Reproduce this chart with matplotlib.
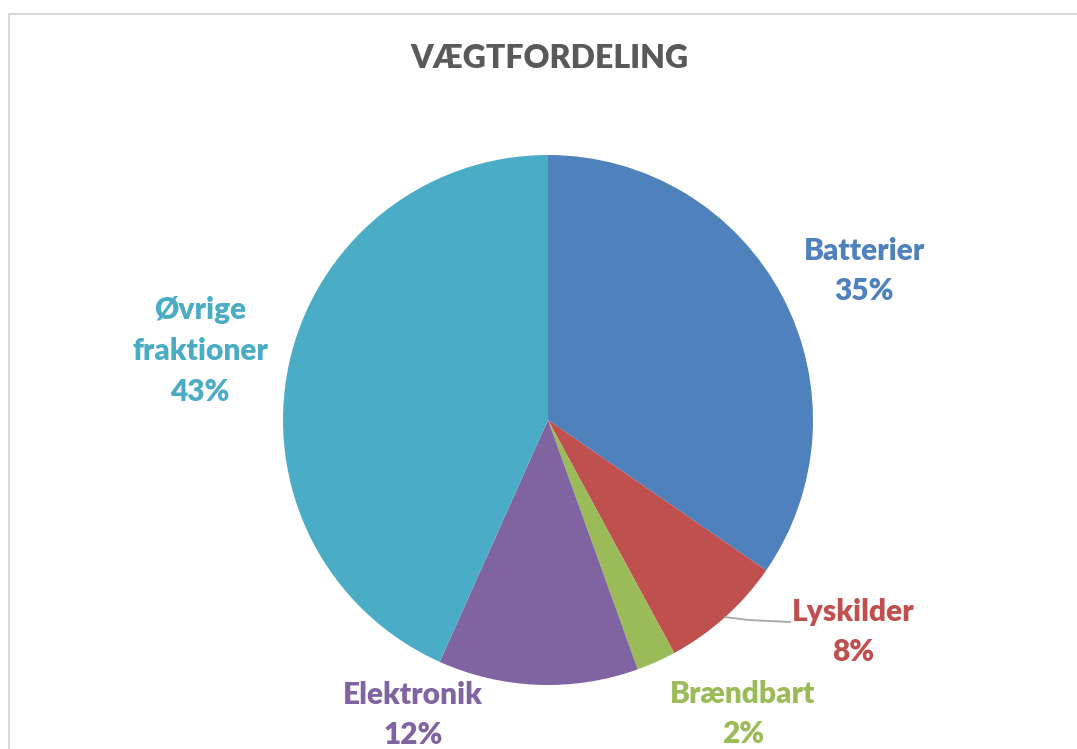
import matplotlib.pyplot as plt
from matplotlib.patches import Rectangle
import numpy as np

# data
categories = ['Batterier', 'Lyskilder', 'Brændbart', 'Elektronik', 'Øvrige\nfraktioner']
values = [34.6, 7.5, 2.4, 12.2, 43.3]
colors = ['#4F81BD', '#C0504D', '#9BBB59', '#8064A2', '#4BACC6']

W, H = 1077, 749
fig = plt.figure(figsize=(W / 100, H / 100), dpi=100)
ax = fig.add_axes([0, 0, 1, 1])

# chart area border
fig.patches.append(Rectangle((9 / W, -0.1), 1.2, (H - 14) / H + 0.1, transform=fig.transFigure,
                             fill=False, edgecolor='#D9D9D9', linewidth=1.5))

cx, cy, r = 548, H - 420, 265
wedges, _ = ax.pie(values, colors=colors, startangle=90, counterclock=False,
                   center=(cx, cy), radius=r, frame=True,
                   wedgeprops=dict(linewidth=0, antialiased=True))
ax.set_xlim(0, W)
ax.set_ylim(0, H)
ax.set_aspect('equal')
ax.axis('off')

# label positions (pixel layout, y from top)
label_pos = [(864, 271), (853, 632), (743, 714), (413, 715), (200, 351)]
font = ['Lato', 'DejaVu Sans']
for w, name, v, c, (lx, ly) in zip(wedges, categories, values, colors, label_pos):
    ax.text(lx, H - ly, f'{name}\n{v:.0f}%', color=c, ha='center', va='center',
            fontsize=21.5, fontweight='heavy', family=font, linespacing=1.55)

# leader line for Lyskilder
w = wedges[1]
mid = np.deg2rad((w.theta1 + w.theta2) / 2)
x0, y0 = cx + r * np.cos(mid), cy + r * np.sin(mid)
ax.plot([x0, x0 + 25, 790], [y0, y0 - 3, H - 622], color='#A6A6A6', linewidth=1.3)

fig.text(549 / W, 1 - 58 / H, 'VÆGTFORDELING', ha='center', va='center',
         fontsize=23, fontweight='heavy', color='#595959', family=font)

fig.savefig('out.png', dpi=100)
